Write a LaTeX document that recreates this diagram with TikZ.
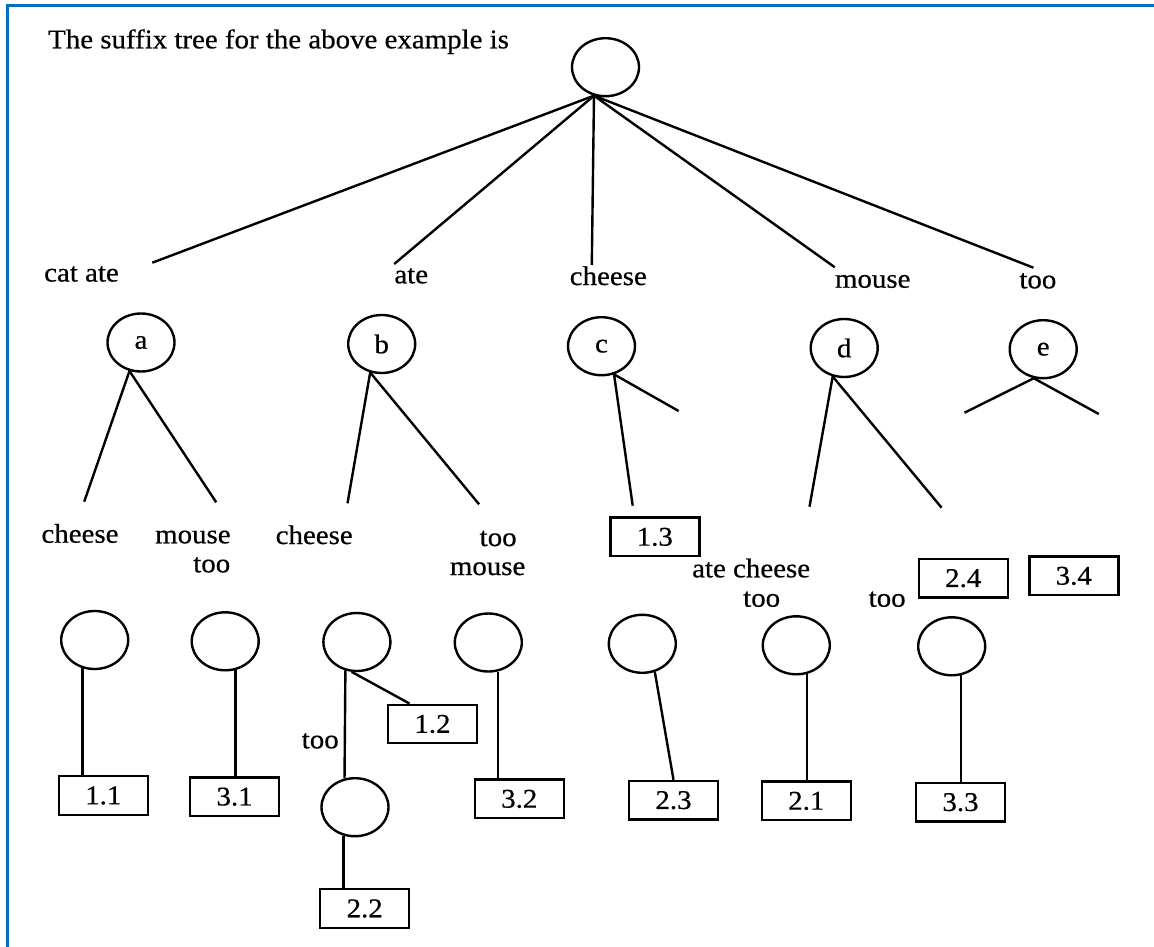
\documentclass[tikz,border=0pt]{standalone}
\usepackage{fontspec}
\setmainfont[FakeStretch=1.07, FakeBold=0.6]{Liberation Serif}
\usetikzlibrary{shapes.geometric}
\definecolor{frameblue}{RGB}{0,112,192}
\tikzset{
    vertex/.style={draw, ellipse, line width=2.4pt, minimum width=67pt, minimum height=58pt, inner sep=0pt},
    leaf/.style={draw, line width=2.4pt, minimum width=89pt, minimum height=38.5pt, inner sep=0pt},
    word/.style={inner sep=0pt, anchor=base west},
    edge/.style={line width=2.4pt}
}

\begin{document}
\begin{tikzpicture}[x=1pt, y=-1pt, font=\fontsize{27}{32}\selectfont]
        \useasboundingbox (0,0) rectangle (1154,947);

        %Frame
        \draw[frameblue, line width=3pt] (7.5,947) -- (7.5,5.5) -- (1154,5.5);

        %Title
        \node[word] (title) at (48,48.3) {The suffix tree for the above example is};

        %Root
        \node[vertex] (root) at (605.5,67.2) {};
        \coordinate (t1) at (152.3,262.7);
        \coordinate (t2) at (394.2,264);
        \coordinate (t3) at (591.8,265);
        \coordinate (t4) at (834.8,267.3);
        \coordinate (t5) at (1033.4,267.7);
        \foreach \i in {1,...,5}{
            \draw[edge] (root.-112) -- (t\i);
        }
        \node[word] (l-catate) at (44,281.5) {cat ate};
        \node[word] (l-ate) at (394.2,283.3) {ate};
        \node[word] (l-cheese) at (569.6,285) {cheese};
        \node[word] (l-mouse) at (834.8,287.7) {mouse};
        \node[word] (l-too) at (1019.2,288.3) {too};

        %First level
        \node[vertex] (a) at (141,342.5) {a};
        \node[vertex] (b) at (381.7,344) {b};
        \node[vertex] (c) at (601.5,346.2) {c};
        \node[vertex] (d) at (844.2,348) {d};
        \node[vertex] (e) at (1043.2,349.2) {e};

        \coordinate (a1) at (84.2,501.7);
        \coordinate (a2) at (216.2,502.3);
        \coordinate (b1) at (347.5,503.3);
        \coordinate (b2) at (479.1,504.3);
        \coordinate (c1) at (632.7,505.7);
        \coordinate (c2) at (678.6,411);
        \coordinate (d1) at (809.5,506.7);
        \coordinate (d2) at (941.6,507.7);
        \coordinate (e1) at (964.5,412.7);
        \coordinate (e2) at (1098.8,414);
        \draw[edge] (a1) -- (a.-112) -- (a2);
        \draw[edge] (b1) -- (b.-112) -- (b2);
        \draw[edge] (c1) -- (c.-66) -- (c2);
        \draw[edge] (d1) -- (d.-112) -- (d2);
        \draw[edge] (e1) -- (e.-108) -- (e2);

        %Second level labels
        \node[word] (l-a1) at (41.3,542.7) {cheese};
        \node[word, anchor=base east] (l-a2) at (230.8,543.3) {mouse};
        \node[word, anchor=base east] (l-a2b) at (230.4,572.3) {too};
        \node[word] (l-b1) at (275.5,544) {cheese};
        \node[word] (l-b2) at (479.5,546) {too};
        \node[word] (l-b2b) at (449.7,575) {mouse};
        \node[word] (l-d1) at (692,577.3) {ate cheese};
        \node[word] (l-d1b) at (743,606.7) {too};
        \node[word] (l-d2) at (868.5,606.7) {too};
        \node[word] (l-nb) at (301.6,748.3) {too};

        %Second level nodes
        \node[vertex] (n11) at (94.7,640) {};
        \node[vertex] (n31) at (225.2,641.3) {};
        \node[vertex] (nb) at (356.9,642) {};
        \node[vertex] (n22) at (355,807.2) {};
        \node[vertex] (n32) at (488.3,642.5) {};
        \node[vertex] (n23) at (642.3,643.8) {};
        \node[vertex] (n21) at (796.3,645.3) {};
        \node[vertex] (n33) at (951.7,646.3) {};

        %Suffix boxes
        \node[leaf] (s13) at (654.8,536.9) {1.3};
        \node[leaf] (s24) at (963.2,578.2) {2.4};
        \node[leaf] (s34) at (1073.8,575.9) {3.4};
        \node[leaf] (s11) at (103.3,795.5) {1.1};
        \node[leaf] (s31) at (234.6,796.7) {3.1};
        \node[leaf] (s12) at (432.5,724) {1.2};
        \node[leaf] (s22) at (364.7,908.5) {2.2};
        \node[leaf] (s32) at (519.3,798.9) {3.2};
        \node[leaf] (s23) at (673.5,800.2) {2.3};
        \node[leaf] (s21) at (806.3,800.9) {2.1};
        \node[leaf] (s33) at (960.5,802.2) {3.3};

        \draw[edge] (n11.-113) -- (n11.-113 |- s11.north);
        \draw[edge] (n31.-70) -- (n31.-70 |- s31.north);
        \draw[edge] (nb.-112) -- (n22.110);
        \draw[edge] (nb.-100) -- ([xshift=-23pt]s12.north);
        \draw[edge] (n22.-112) -- (n22.-112 |- s22.north);
        \draw[edge] (n32.-72) -- (n32.-72 |- s32.north);
        \draw[edge] (n23.-66) -- (s23.north);
        \draw[edge] (n21.-70) -- (n21.-70 |- s21.north);
        \draw[edge] (n33.-72) -- (n33.-72 |- s33.north);
    \end{tikzpicture}
\end{document}
